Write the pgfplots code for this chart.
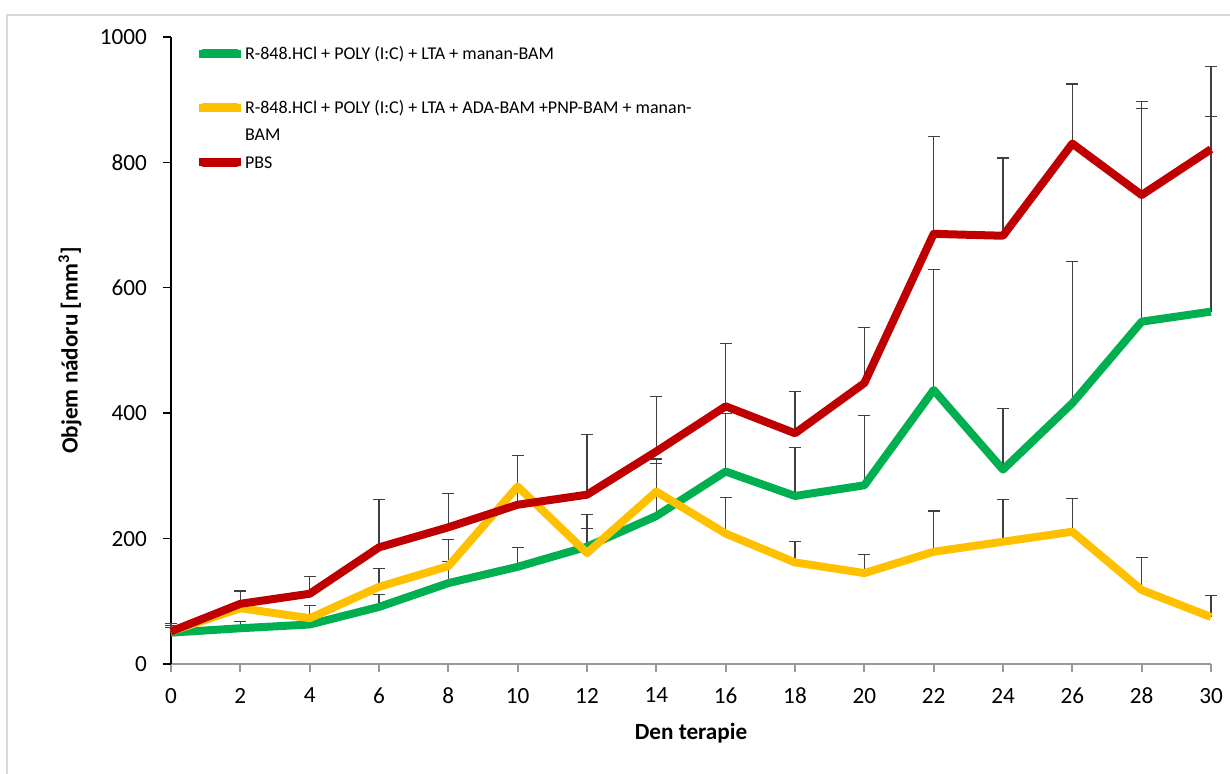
\documentclass[border=0pt]{standalone}
\usepackage{pgfplots}
\pgfplotsset{compat=1.18}
\usepackage{pgfplotstable}
\usepackage{fontspec}
\setmainfont{Carlito}

\definecolor{cgreen}{HTML}{00B050}
\definecolor{cyellow}{HTML}{FFC000}
\definecolor{cred}{HTML}{C00000}
\definecolor{errcol}{HTML}{404040}

% day, mean volume, upper error
\pgfplotstableread{
x y e
0 50 8
2 57 11
4 63 6
6 91 20
8 129 35
10 155 31
12 187 29
14 236 84
16 307 93
18 268 77
20 285 112
22 437 192
24 310 97
26 416 226
28 546 340
30 562 311
}\greentab

\pgfplotstableread{
x y e
0 52 10
2 89 27
4 73 21
6 123 29
8 156 43
10 283 50
12 177 61
14 275 52
16 208 57
18 162 34
20 145 30
22 179 65
24 195 68
26 211 53
28 118 52
30 75 34
}\yellowtab

\pgfplotstableread{
x y e
0 52 13
2 96 21
4 112 28
6 186 77
8 218 54
10 254 79
12 270 96
14 339 87
16 411 100
18 368 66
20 448 89
22 686 155
24 683 124
26 830 95
28 748 149
30 821 132
}\redtab

\pgfplotsset{
  errbars/.style={
    forget plot, draw=none, mark=none,
    error bars/.cd, y dir=plus, y explicit,
    error bar style={draw=errcol, line width=0.55pt},
    error mark options={draw=errcol, line width=0.55pt, rotate=90, mark size=3pt}
  },
  series/.style={#1, line width=4pt, line join=round, mark=none}
}

\begin{document}
\begin{tikzpicture}
\begin{axis}[
  at={(85.5pt,55pt)}, anchor=south west,
  scale only axis, width=520pt, height=313.5pt,
  xmin=0, xmax=30, ymin=0, ymax=1000,
  xtick={0,2,...,30}, ytick={0,200,...,1000},
  axis x line*=bottom, axis y line*=left,
  x axis line style={-, draw=black!40, line width=0.9pt},
  y axis line style={-, draw=black, line width=0.7pt},
  xtick style={draw=black!40, line width=0.9pt},
  ytick style={draw=black, line width=0.7pt},
  tick align=outside, major tick length=4pt,
  ticklabel style={font=\fontsize{11.6}{13}\selectfont},
  xticklabel style={yshift=-4.5pt},
  yticklabel style={xshift=-4.5pt},
  /pgf/number format/assume math mode=true,
  /pgf/number format/1000 sep={},
  xlabel={Den terapie},
  ylabel={Objem nádoru [mm\textsuperscript{3}]},
  every axis x label/.style={at={(axis description cs:0.5,-0.110)}, anchor=center,
    font=\fontsize{11.6}{13}\selectfont\bfseries},
  every axis y label/.style={at={(axis description cs:-0.0971,0.5)}, anchor=center, rotate=90,
    font=\fontsize{11.6}{13}\selectfont\bfseries},
  clip=false,
  legend image code/.code={
    \draw[#1, line width=4.5pt, line cap=round] (0pt,2.9pt) -- (16.5pt,2.9pt);
    \path (-2.25pt,2.9pt) -- (18.75pt,2.9pt);
  },
  legend style={
    at={(axis description cs:0.0231,0.993)}, anchor=north west,
    draw=none, fill=none, inner sep=0pt, outer sep=0pt,
    row sep=1.1pt, column sep=-2pt,
    font=\fontsize{9}{10.8}\selectfont,
    cells={anchor=base west, inner sep=0pt, text height=7pt, text depth=7.5pt}
  },
]
% error bars underneath the lines
\addplot[errbars] table[x=x, y=y, y error=e] {\greentab};
\addplot[errbars] table[x=x, y=y, y error=e] {\yellowtab};
\addplot[errbars] table[x=x, y=y, y error=e] {\redtab};

\addplot[series=cgreen] table[x=x, y=y] {\greentab};
\addlegendentry{R-848.HCl + POLY (I:C) + LTA + manan-BAM}
\addlegendimage{empty legend}
\addlegendentry{\mbox{}}
\addplot[series=cyellow] table[x=x, y=y] {\yellowtab};
\addlegendentry{R-848.HCl + POLY (I:C) + LTA + ADA-BAM +PNP-BAM + manan-}
\addlegendimage{empty legend}
\addlegendentry{BAM}
\addplot[series=cred] table[x=x, y=y] {\redtab};
\addlegendentry{PBS}
\end{axis}
% chart frame
\draw[black!15, line width=0.75pt] (3.5pt,-10pt) -- (3.5pt,379.5pt) -- (625pt,379.5pt);
\pgfresetboundingbox
\path[use as bounding box] (0,0) rectangle (615pt,387pt);
\end{tikzpicture}
\end{document}
